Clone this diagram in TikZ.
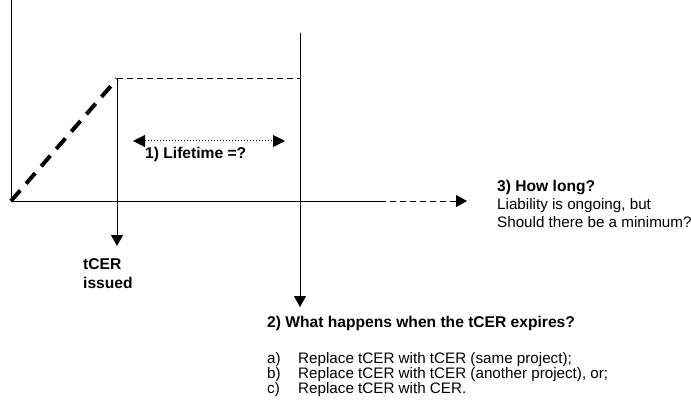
\documentclass[tikz,border=0pt]{standalone}
\usepackage{fontspec}
\setmainfont{Liberation Sans}
\usetikzlibrary{arrows.meta}
\tikzstyle{axis} = [line width=1pt]
\tikzstyle{arrow} = [line width=1pt, -{Triangle[length=11pt, width=12pt]}]
\tikzstyle{growth} = [line width=4pt, dash pattern=on 14pt off 9pt]
\tikzstyle{level} = [line width=1pt, dash pattern=on 6pt off 4pt]
\tikzstyle{txt} = [inner sep=0pt, anchor=base west, font=\fontsize{15.2}{17.5}\selectfont]
\tikzstyle{btxt} = [txt, font=\fontsize{15.6}{17.5}\selectfont\bfseries]

\begin{document}
\begin{tikzpicture}[x=1pt, y=-1pt]
        \useasboundingbox (0,0) rectangle (691,401);
        \coordinate (top) at (11,0);
        \coordinate (origin) at (11,201);
        \coordinate (issue) at (117,79);
        \coordinate (expiry) at (300,79);
        \coordinate (expirytop) at (300,33);
        \coordinate (axisend) at (380,201);
        \coordinate (axistip) at (467,201);
        \coordinate (issuetip) at (117,246);
        \coordinate (expirytip) at (300,307);
        \coordinate (lifeleft) at (133,141);
        \coordinate (liferight) at (285,141);
        % axes
        \draw [axis] (top) -- (origin) -- (axisend);
        \draw [arrow, level] (axisend) -- (axistip);
        % tCER curve
        \draw [growth] (origin) -- (issue);
        \draw [level] (issue) -- (expiry);
        \draw [arrow] (issue) -- (issuetip);
        \draw [arrow] (expirytop) -- (expirytip);
        \draw [arrow, {Triangle[length=12pt, width=12pt]}-{Triangle[length=12pt, width=12pt]}, dotted] (lifeleft) -- (liferight);
        % texts
        \node (lifetime) [btxt] at (145,159) {1) Lifetime =?};
        \node (issued1) [btxt] at (83,269) {tCER};
        \node (issued2) [btxt] at (83,288) {issued};
        \node (howlong) [btxt] at (497,191) {3) How long?};
        \node (ongoing) [txt] at (497,209) {Liability is ongoing, but};
        \node (minimum) [txt] at (497,227) {Should there be a minimum?};
        \node (expires) [btxt] at (267,327) {2) What happens when the tCER expires?};
        \foreach \lbl/\option [count=\i] in {a)/{Replace tCER with tCER (same project);}, b)/{Replace tCER with tCER (another project), or;}, c)/{Replace tCER with CER.}} {
            \node (item\i) [txt] at (267,348+15*\i) {\lbl};
            \node (option\i) [txt] at (298,348+15*\i) {\option};
        }
    \end{tikzpicture}
\end{document}
